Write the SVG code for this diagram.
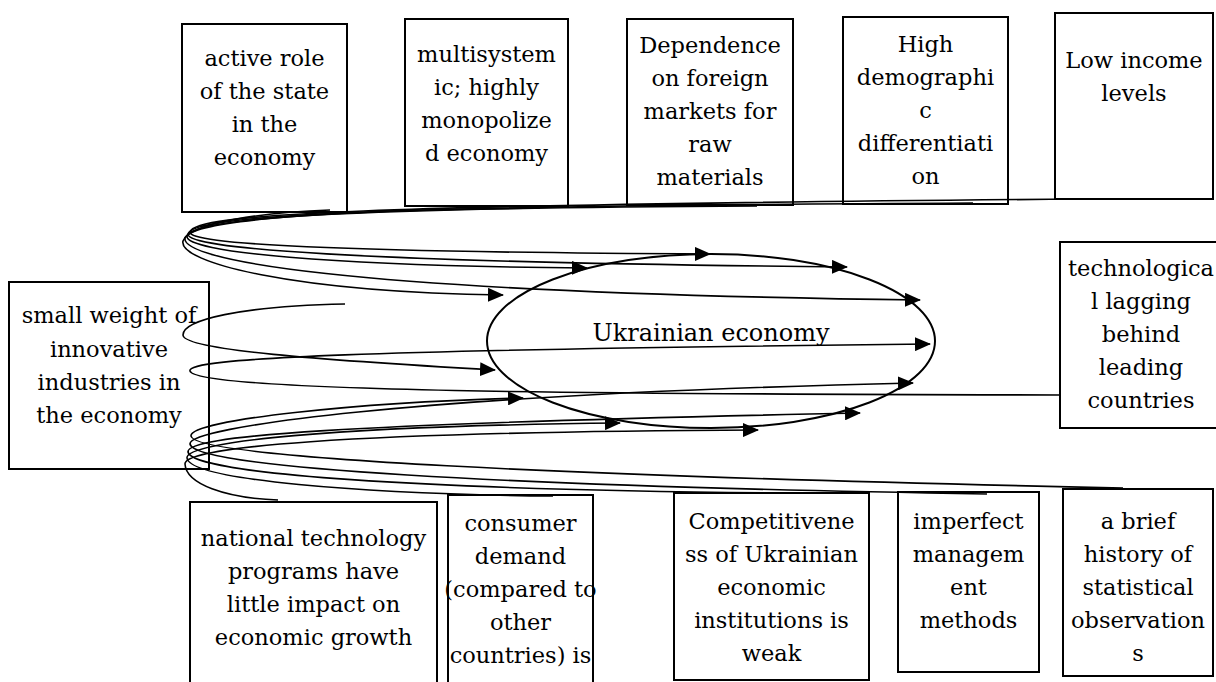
<svg xmlns="http://www.w3.org/2000/svg" width="1216" height="682" viewBox="0 0 1216 682">
<style>
.box{fill:none;stroke:#000;stroke-width:2}
.lbl{font-family:"DejaVu Serif","Liberation Serif",serif;font-size:22.5px;fill:#000;text-anchor:middle}
.con{fill:none;stroke:#000;stroke-width:1.6}
.arr{marker-end:url(#ah)}
</style>
<defs>
<marker id="ah" markerUnits="userSpaceOnUse" markerWidth="16" markerHeight="14" viewBox="0 0 16 14" refX="15" refY="7" orient="auto"><path d="M0,0 L16,7 L0,14 Z" fill="#000"/></marker>
</defs>
<rect width="1216" height="682" fill="#fff"/>

<g id="n-active-role">
<rect class="box" x="182" y="24" width="165" height="188"/>
<text class="lbl"><tspan x="264.5" y="66">active role</tspan><tspan x="264.5" y="99">of the state</tspan><tspan x="264.5" y="132">in the</tspan><tspan x="264.5" y="165">economy</tspan></text>
</g>
<g id="n-multisystemic">
<rect class="box" x="405" y="19" width="163" height="187"/>
<text class="lbl"><tspan x="486.5" y="62">multisystem</tspan><tspan x="486.5" y="95">ic; highly</tspan><tspan x="486.5" y="128">monopolize</tspan><tspan x="486.5" y="161">d economy</tspan></text>
</g>
<g id="n-dependence">
<rect class="box" x="627" y="19" width="166" height="186"/>
<text class="lbl"><tspan x="710" y="53">Dependence</tspan><tspan x="710" y="86">on foreign</tspan><tspan x="710" y="119">markets for</tspan><tspan x="710" y="152">raw</tspan><tspan x="710" y="185">materials</tspan></text>
</g>
<g id="n-demographic">
<rect class="box" x="843" y="17" width="165" height="187"/>
<text class="lbl"><tspan x="925.5" y="52">High</tspan><tspan x="925.5" y="85">demographi</tspan><tspan x="925.5" y="118">c</tspan><tspan x="925.5" y="151">differentiati</tspan><tspan x="925.5" y="184">on</tspan></text>
</g>
<g id="n-low-income">
<rect class="box" x="1055" y="13" width="158" height="186"/>
<text class="lbl"><tspan x="1134" y="68">Low income</tspan><tspan x="1134" y="101">levels</tspan></text>
</g>
<g id="n-small-weight">
<rect class="box" x="9" y="282" width="200" height="187"/>
<text class="lbl"><tspan x="109" y="323">small weight of</tspan><tspan x="109" y="357">innovative</tspan><tspan x="109" y="390">industries in</tspan><tspan x="109" y="423">the economy</tspan></text>
</g>
<g id="n-tech-lagging">
<rect class="box" x="1060" y="242" width="170" height="186"/>
<text class="lbl"><tspan x="1141" y="276">technologica</tspan><tspan x="1141" y="309">l lagging</tspan><tspan x="1141" y="342">behind</tspan><tspan x="1141" y="375">leading</tspan><tspan x="1141" y="408">countries</tspan></text>
</g>
<g id="n-national-programs">
<rect class="box" x="190" y="502" width="247" height="190"/>
<text class="lbl"><tspan x="313.5" y="546">national technology</tspan><tspan x="313.5" y="579">programs have</tspan><tspan x="313.5" y="612">little impact on</tspan><tspan x="313.5" y="645">economic growth</tspan></text>
</g>
<g id="n-consumer-demand">
<rect class="box" x="448" y="495" width="145" height="197"/>
<text class="lbl"><tspan x="520.5" y="531">consumer</tspan><tspan x="520.5" y="564">demand</tspan><tspan x="520.5" y="597">(compared to</tspan><tspan x="520.5" y="630">other</tspan><tspan x="520.5" y="663">countries) is</tspan></text>
</g>
<g id="n-competitiveness">
<rect class="box" x="674" y="493" width="195" height="187"/>
<text class="lbl"><tspan x="771.5" y="529">Competitivene</tspan><tspan x="771.5" y="562">ss of Ukrainian</tspan><tspan x="771.5" y="595">economic</tspan><tspan x="771.5" y="628">institutions is</tspan><tspan x="771.5" y="661">weak</tspan></text>
</g>
<g id="n-management">
<rect class="box" x="898" y="492" width="141" height="180"/>
<text class="lbl"><tspan x="968.5" y="529">imperfect</tspan><tspan x="968.5" y="562">managem</tspan><tspan x="968.5" y="595">ent</tspan><tspan x="968.5" y="628">methods</tspan></text>
</g>
<g id="n-statistics">
<rect class="box" x="1063" y="489" width="150" height="187"/>
<text class="lbl"><tspan x="1138" y="529">a brief</tspan><tspan x="1138" y="562">history of</tspan><tspan x="1138" y="595">statistical</tspan><tspan x="1138" y="628">observation</tspan><tspan x="1138" y="661">s</tspan></text>
</g>
<g id="n-ukrainian-economy">
<ellipse cx="711" cy="341" rx="224" ry="87" fill="none" stroke="#000" stroke-width="2"/>
<text x="711" y="341" style="font-family:'DejaVu Serif','Liberation Serif',serif;font-size:24px;fill:#000;text-anchor:middle">Ukrainian economy</text>
</g>

<g id="connectors">
<path class="con arr" d="M330,210 C268,212 190,222 183,241 C178,262 290,292 503,295"/>
<path class="con arr" d="M540,208 C330,210 192,220 185,238 C181,258 320,292 920,300"/>
<path class="con arr" d="M757,206 C340,208 192,218 187,236 C184,252 330,266 587,268"/>
<path class="con arr" d="M973,203 C345,206 192,216 188,234 C186,248 340,262 847,267"/>
<path class="con arr" d="M1085,199 C350,205 194,214 190,232 C188,244 330,252 710,254"/>
<path class="con arr" d="M345,304 C240,306 183,320 183,335 C183,350 320,360 495,370"/>
<path class="con arr" d="M1060,395 C600,394 196,392 190,371 C186,358 360,350 930,344"/>
<path class="con arr" d="M1123,488 C560,476 194,458 191,436 C189,420 360,402 523,398"/>
<path class="con arr" d="M987,494 C500,486 194,468 190,444 C188,428 400,395 913,383"/>
<path class="con arr" d="M787,493 C420,490 192,474 188,452 C186,436 330,424 860,413"/>
<path class="con arr" d="M553,496 C360,494 190,480 187,458 C185,442 330,426 620,423"/>
<path class="con arr" d="M278,500 C225,498 186,484 185,464 C184,448 330,432 758,430"/>
</g>
</svg>
